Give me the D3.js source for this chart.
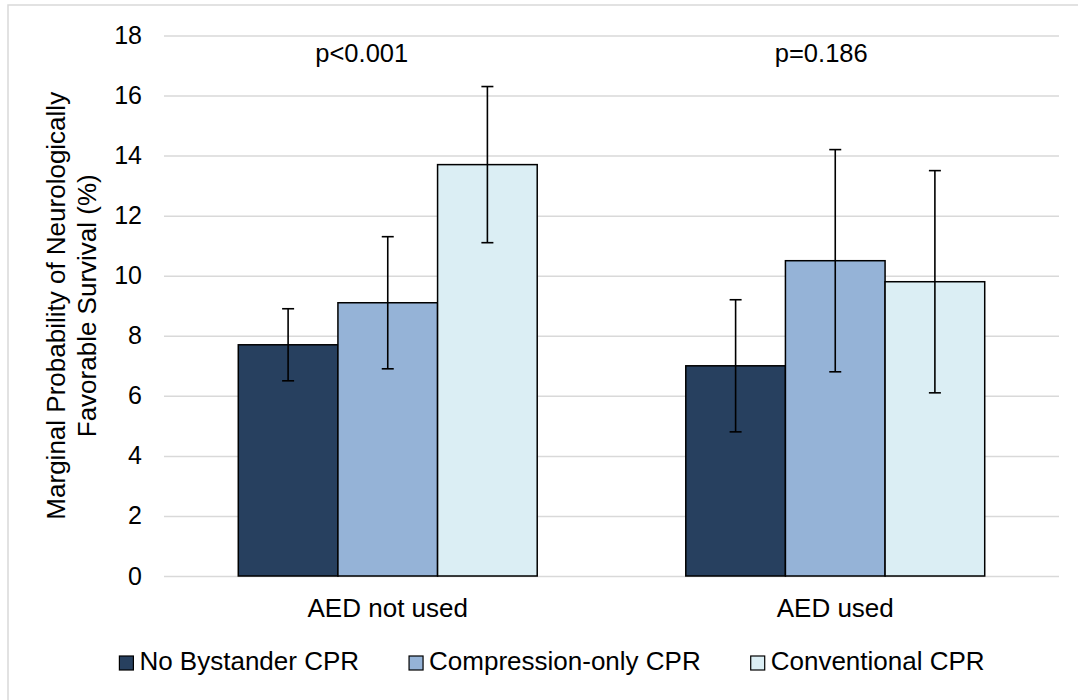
<!DOCTYPE html>
<html>
<head>
<meta charset="utf-8">
<script src="https://cdn.jsdelivr.net/npm/d3@7"></script>
<style>
  body { margin: 0; background: #fff; }
  text { font-family: "Liberation Sans", Arial, sans-serif; fill: #000; }
</style>
</head>
<body>
<div id="chart"></div>
<script>
// data
var groups = ["AED not used", "AED used"];
var series = ["No Bystander CPR", "Compression-only CPR", "Conventional CPR"];
var colors = ["#27405f", "#95b3d7", "#dbeef4"];
var means = [[7.7, 9.1, 13.7], [7.0, 10.5, 9.8]];
var lower = [[6.5, 6.9, 11.1], [4.8, 6.8, 6.1]];
var upper = [[8.9, 11.3, 16.3], [9.2, 14.2, 13.5]];
var pLabels = ["p<0.001", "p=0.186"];
var yTicks = [0, 2, 4, 6, 8, 10, 12, 14, 16, 18];

var width = 1078, height = 700;
var plot = {left: 164, right: 1059, top: 35.5, bottom: 576};
var pShift = [-26, -14];

var svg = d3.select("#chart").append("svg")
    .attr("width", width)
    .attr("height", height);

// outer frame (cut off at right and bottom)
svg.append("rect")
    .attr("x", 8).attr("y", 5)
    .attr("width", 1200).attr("height", 800)
    .attr("fill", "none")
    .attr("stroke", "#d9d9d9")
    .attr("stroke-width", 1.5);

var x0 = d3.scaleBand()
    .domain(groups)
    .range([plot.left, plot.right])
    .paddingInner(0.332)
    .paddingOuter(0.166);

var x1 = d3.scaleBand()
    .domain(series)
    .range([0, x0.bandwidth()]);

var y = d3.scaleLinear()
    .domain([0, 18])
    .range([plot.bottom, plot.top]);

// gridlines + tick labels
var yAxis = d3.axisLeft(y)
    .tickValues(yTicks)
    .tickSize(-(plot.right - plot.left))
    .tickPadding(22);

var gy = svg.append("g")
    .attr("transform", "translate(" + plot.left + ",0)")
    .call(yAxis);
gy.select(".domain").remove();
gy.selectAll(".tick line").attr("stroke", "#d9d9d9").attr("stroke-width", 1.5);
gy.selectAll(".tick text")
    .style("font-size", "25px")
    .style("font-family", "Liberation Sans, Arial, sans-serif")
    .attr("fill", "#000");

// bars
var g = svg.selectAll(".grp")
    .data(groups)
    .enter().append("g")
    .attr("class", "grp")
    .attr("transform", function(d) { return "translate(" + x0(d) + ",0)"; });

g.selectAll("rect")
    .data(function(d, i) {
        return series.map(function(s, j) {
            return {s: s, j: j, v: means[i][j], lo: lower[i][j], hi: upper[i][j]};
        });
    })
    .enter().append("rect")
    .attr("x", function(d) { return x1(d.s); })
    .attr("y", function(d) { return y(d.v); })
    .attr("width", x1.bandwidth())
    .attr("height", function(d) { return y(0) - y(d.v); })
    .attr("fill", function(d) { return colors[d.j]; })
    .attr("stroke", "#000")
    .attr("stroke-width", 1.5);

// error bars
var err = g.selectAll(".err")
    .data(function(d, i) {
        return series.map(function(s, j) {
            return {s: s, lo: lower[i][j], hi: upper[i][j]};
        });
    })
    .enter().append("g")
    .attr("class", "err")
    .attr("transform", function(d) { return "translate(" + (x1(d.s) + x1.bandwidth() / 2) + ",0)"; });

err.append("line")
    .attr("y1", function(d) { return y(d.lo); })
    .attr("y2", function(d) { return y(d.hi); });
err.append("line")
    .attr("x1", -6).attr("x2", 6)
    .attr("y1", function(d) { return y(d.hi); })
    .attr("y2", function(d) { return y(d.hi); });
err.append("line")
    .attr("x1", -6).attr("x2", 6)
    .attr("y1", function(d) { return y(d.lo); })
    .attr("y2", function(d) { return y(d.lo); });
err.selectAll("line").attr("stroke", "#000").attr("stroke-width", 1.6);

// category labels
svg.selectAll(".cat")
    .data(groups)
    .enter().append("text")
    .attr("class", "cat")
    .attr("x", function(d) { return x0(d) + x0.bandwidth() / 2; })
    .attr("y", y(0) + 41)
    .attr("text-anchor", "middle")
    .style("font-size", "26px")
    .text(function(d) { return d; });

// p values
svg.selectAll(".pval")
    .data(pLabels)
    .enter().append("text")
    .attr("class", "pval")
    .attr("x", function(d, i) { return x0(groups[i]) + x0.bandwidth() / 2 + pShift[i]; })
    .attr("y", y(18) + 26.5)
    .attr("text-anchor", "middle")
    .style("font-size", "25.5px")
    .text(function(d) { return d; });

// y axis title
var yt = svg.append("text")
    .attr("transform", "translate(65," + ((plot.top + plot.bottom) / 2) + ") rotate(-90)")
    .attr("text-anchor", "middle")
    .style("font-size", "26px");
yt.append("tspan").attr("x", 0).attr("dy", 0).text("Marginal Probability of Neurologically");
yt.append("tspan").attr("x", 0).attr("dy", 31).text("Favorable Survival (%)");

// legend
var legend = svg.append("g");
var items = legend.selectAll(".item")
    .data(series)
    .enter().append("g")
    .attr("class", "item");
items.append("rect")
    .attr("width", 14).attr("height", 14)
    .attr("y", -14)
    .attr("fill", function(d, i) { return colors[i]; })
    .attr("stroke", "#000")
    .attr("stroke-width", 1.2);
items.append("text")
    .attr("x", 20)
    .attr("y", 0)
    .style("font-size", "26px")
    .text(function(d) { return d; });

var offs = [], cur = 0;
items.each(function() {
    offs.push(cur);
    cur += 20 + d3.select(this).select("text").node().getComputedTextLength() + 50;
});
var total = cur - 50;
items.attr("transform", function(d, i) { return "translate(" + offs[i] + ",0)"; });
legend.attr("transform", "translate(" + (552 - total / 2) + ",670)");
</script>
</body>
</html>
